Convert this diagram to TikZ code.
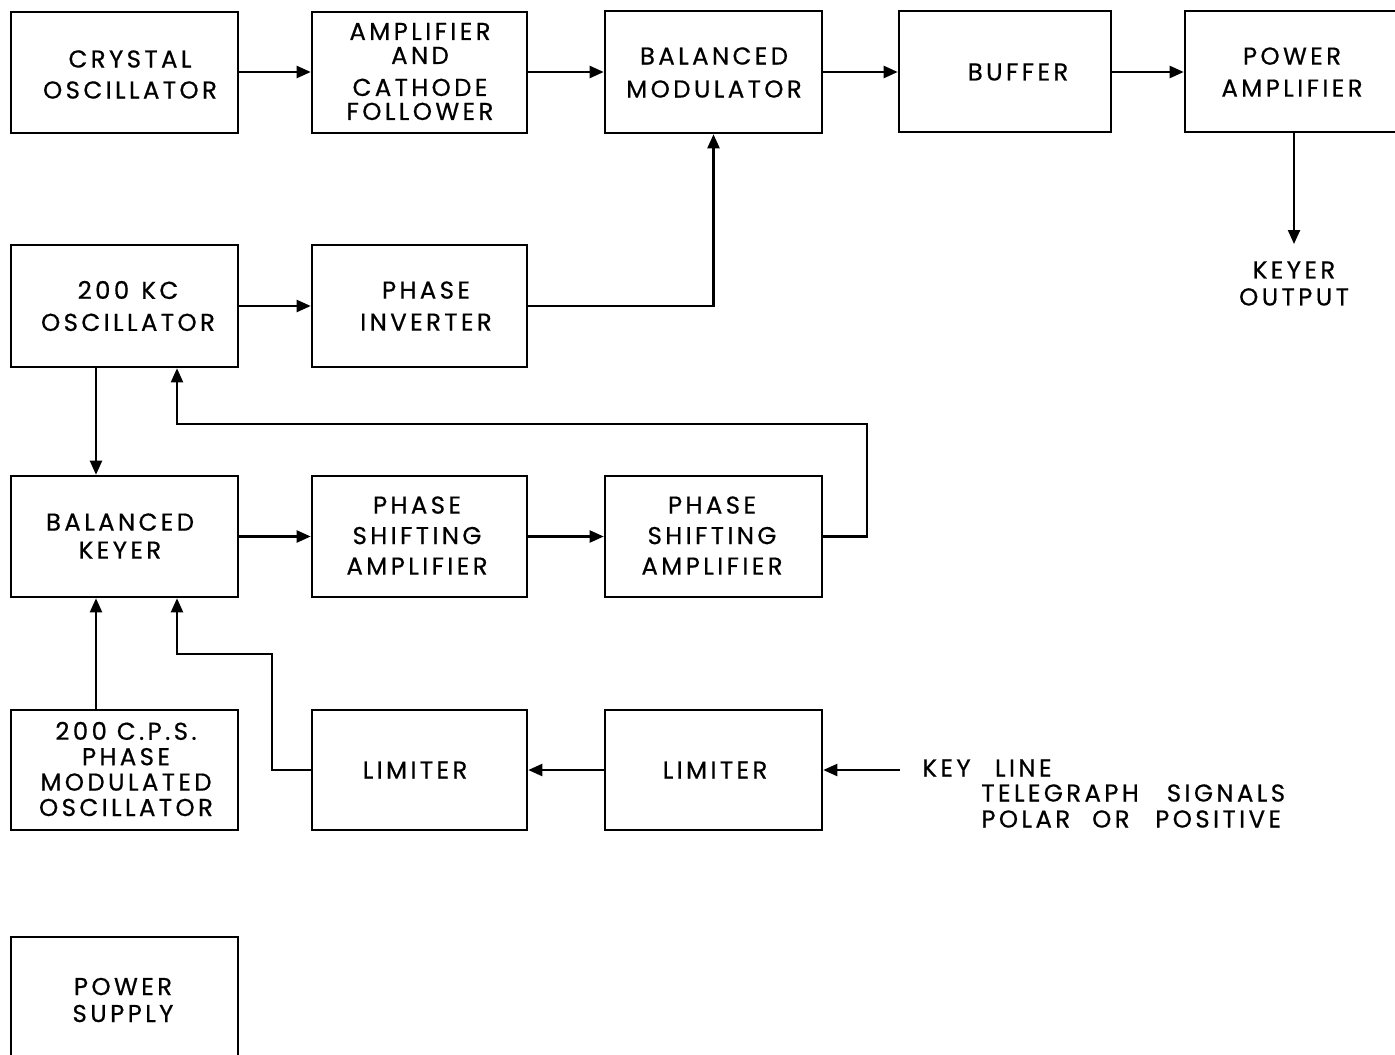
\documentclass[tikz,border=0pt]{standalone}
\usepackage{fontspec}
\setmainfont{Poppins}[LetterSpace=14,FakeBold=0.6]
\usetikzlibrary{arrows.meta}
\begin{document}
\begin{tikzpicture}[x=0.5pt,y=-0.5pt,
  blk/.style={draw,line width=1.3pt,inner sep=0pt,minimum width=108pt,minimum height=61pt},
  txt/.style={align=center,inner sep=0pt,font=\fontsize{12.2}{15.5}\selectfont},
  arr/.style={line width=1.1pt,-{Triangle[length=7pt,width=6pt]}},
  ln/.style={line width=1.1pt}]
\useasboundingbox (0,0) rectangle (1395,1054);
\clip (0,0) rectangle (1395,1054);
% boxes
\node[blk,minimum width=113.5pt,minimum height=60.5pt] (cry) at (124.5,72.5) {};
\node[blk,minimum width=107.5pt,minimum height=60.5pt] (amp) at (419.5,72.5) {};
\node[blk,minimum width=108.5pt,minimum height=61pt] (bm) at (713.5,72) {};
\node[blk,minimum width=106pt,minimum height=60.5pt] (buf) at (1005,71.5) {};
\node[blk,minimum width=110pt,minimum height=60.5pt] (pa) at (1295,71.5) {};
\node[blk,minimum width=113.5pt,minimum height=61pt] (kc) at (124.5,306) {};
\node[blk,minimum width=107.5pt,minimum height=61pt] (pi) at (419.5,306) {};
\node[blk,minimum width=113.5pt,minimum height=60.5pt] (bk) at (124.5,536.5) {};
\node[blk,minimum width=107.5pt,minimum height=60.5pt] (ps1) at (419.5,536.5) {};
\node[blk,minimum width=108.5pt,minimum height=60.5pt] (ps2) at (713.5,536.5) {};
\node[blk,minimum width=113.5pt,minimum height=60pt] (cps) at (124.5,770) {};
\node[blk,minimum width=107.5pt,minimum height=60pt] (lim1) at (419.5,770) {};
\node[blk,minimum width=108.5pt,minimum height=60pt] (lim2) at (713.5,770) {};
\node[blk,minimum width=113.5pt,minimum height=66.5pt] (ps) at (124.5,1003.5) {};
% texts
\node[txt] (tcry) at (130,74.5) {CRYSTAL\\OSCILLATOR};
\node[txt,font=\fontsize{12.2}{12}\selectfont] (tamp) at (420,71.5) {AMPLIFIER\\AND\\[4pt]CATHODE\\FOLLOWER};
\node[txt,font=\fontsize{12.2}{16.5}\selectfont] (tbm) at (714,72.5) {BALANCED\\MODULATOR};
\node[txt] (tbuf) at (1018,72) {BUFFER};
\node[txt,font=\fontsize{12.2}{16}\selectfont] (tpa) at (1292,72) {POWER\\AMPLIFIER};
\node[txt,font=\fontsize{12.2}{13.5}\selectfont] (tko) at (1294,283.5) {KEYER\\OUTPUT};
\node[txt,font=\fontsize{12.2}{16}\selectfont] (tkc) at (128,306) {200\hspace{0.5em}KC\\OSCILLATOR};
\node[txt,font=\fontsize{12.2}{16}\selectfont] (tpi) at (426,306) {PHASE\\INVERTER};
\node[txt,font=\fontsize{12.2}{14}\selectfont] (tbk) at (120,536) {BALANCED\\KEYER};
\node[txt,font=\fontsize{12.2}{15.25}\selectfont] (tps1) at (417,535.5) {PHASE\\SHIFTING\\AMPLIFIER};
\node[txt,font=\fontsize{12.2}{15.25}\selectfont] (tps2) at (712,535.5) {PHASE\\SHIFTING\\AMPLIFIER};
\node[txt,font=\fontsize{12.2}{12.7}\selectfont] (tcps) at (126,769) {200 C.P.S.\\PHASE\\MODULATED\\OSCILLATOR};
\node[txt] (tl1) at (415,770) {LIMITER};
\node[txt] (tl2) at (715,770) {LIMITER};
\node[txt,font=\fontsize{12.2}{13.5}\selectfont] (tpsu) at (123,1000) {POWER\\SUPPLY};
\node[txt,anchor=west] (tkey) at (922,768) {KEY\hspace{1.0em}LINE};
\node[txt,anchor=west,align=left,font=\fontsize{12.2}{13}\selectfont] (ttel) at (981,806) {TELEGRAPH\hspace{1.15em}SIGNALS\\POLAR\hspace{0.9em}OR\hspace{1.05em}POSITIVE};
% connectors
\draw[arr] (cry.east |- 0,72) -- (amp.west |- 0,72);
\draw[arr] (amp.east |- 0,72) -- (bm.west |- 0,72);
\draw[arr] (bm.east |- 0,72) -- (buf.west |- 0,72);
\draw[arr] (buf.east |- 0,72) -- (pa.west |- 0,72);
\coordinate (ko) at (1294,244);
\draw[arr] (pa.south -| ko) -- (ko);
\draw[arr] (kc.east) -- (pi.west);
\draw[arr] (pi.east) -| (bm.south);
\coordinate (cx) at (96,0);
\draw[arr] (kc.south -| cx) -- (bk.north -| cx);
\draw[arr] (bk.east) -- (ps1.west);
\draw[arr] (ps1.east) -- (ps2.west);
\coordinate (cy) at (177,0);
\draw[arr] (ps2.east) -- (867,536.5) |- (177,424) -- (kc.south -| cy);
\draw[arr] (cps.north -| cx) -- (bk.south -| cx);
\draw[arr] (lim1.west) -- (272,770) |- (177,654) -- (bk.south -| cy);
\draw[arr] (lim2.west) -- (lim1.east);
\coordinate (kl) at (900,770);
\draw[arr] (kl) -- (lim2.east);
\end{tikzpicture}
\end{document}
